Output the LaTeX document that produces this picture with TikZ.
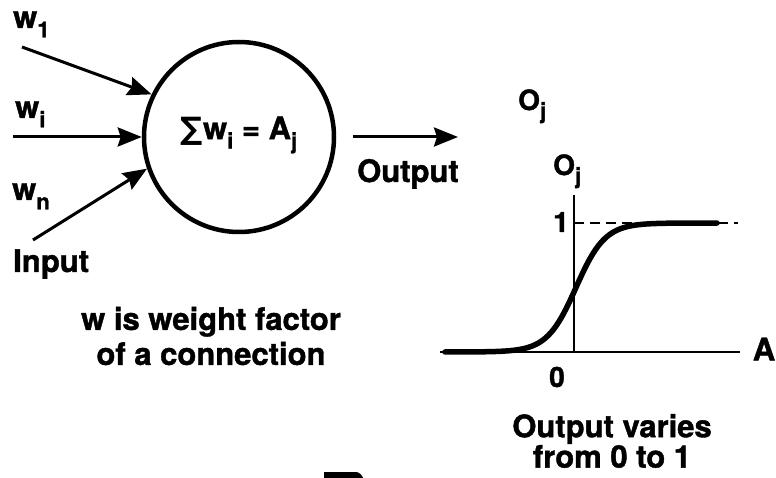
\documentclass[tikz,border=0pt]{standalone}
\usepackage{fontspec}
\setmainfont{TeX Gyre Heros}[BoldFeatures={FakeBold=1.3}]
\newfontfamily\symfont{DejaVu Sans}
\usetikzlibrary{arrows.meta}
\newcommand{\sub}[1]{\raisebox{-0.3em}{\fontsize{22}{22}\selectfont #1}}

\tikzset{
  lbl/.style={font=\fontsize{31}{35}\selectfont\bfseries, inner sep=0pt},
  axlbl/.style={font=\fontsize{28}{30}\selectfont\bfseries, inner sep=0pt},
  wire/.style={line width=3pt, -{Stealth[length=24pt,width=19pt,inset=3pt]}},
}

\begin{document}
\begin{tikzpicture}[x=1pt,y=-1pt]
  \useasboundingbox (0,0) rectangle (776,478);
  % neuron and its inputs
  \node[draw,circle,line width=4.5pt,minimum size=190pt,inner sep=0pt] (neuron) at (239,137) {};
  \node[lbl] (sumtxt) at (239,135) {{\symfont ∑}w\sub{i} = A\sub{j}};
  \coordinate (in1) at (22,47);
  \coordinate (ini) at (13,137);
  \coordinate (inn) at (33,240);
  \draw[wire] (in1) -- (neuron.154);
  \draw[wire] (ini) -- (neuron.west);
  \draw[wire] (inn) -- (neuron.199);
  \node[lbl,anchor=base west] (w1) at (13,28) {w\sub{1}};
  \node[lbl,anchor=base west] (wi) at (15,118) {w\sub{i}};
  \node[lbl,anchor=base west] (wn) at (12,200) {w\sub{n}};
  \node[lbl,anchor=base west] (inlbl) at (13,272) {Input};
  \node[lbl,align=center] (wnote) at (211,336) {w is weight factor\\of a connection};
  % output
  \coordinate (outbeg) at (353,137);
  \coordinate (outend) at (458,137);
  \draw[wire] (outbeg) -- (outend);
  \node[lbl,anchor=base west] (outlbl) at (357,182) {Output};
  % sigmoid graph
  \coordinate (orig) at (574,352);
  \coordinate (xlo) at (440,352);
  \coordinate (xhi) at (740,352);
  \coordinate (ytop) at (574,195);
  \coordinate (one) at (574,223);
  \coordinate (oneend) at (738,223);
  \draw[line width=2.5pt] (xlo) -- (xhi);
  \draw[line width=2pt] (ytop) -- (orig);
  \draw[line width=2pt,dash pattern=on 10pt off 6pt] (one) -- (oneend);
  \draw[line width=5.5pt,line cap=round,domain=445:717,samples=120]
    plot (\x,{352-129/(1+exp(-(\x-576)/14.5))});
  \node[axlbl,anchor=base west] (oj1) at (518,110) {O\sub{j}};
  \node[axlbl,anchor=base west] (oj2) at (553,175) {O\sub{j}};
  \node[axlbl,anchor=east] (onelbl) at (569,222) {1};
  \node[axlbl] (zerolbl) at (557,377) {0};
  \node[lbl] (albl) at (764,349) {A};
  \node[lbl,align=center,font=\fontsize{31}{28}\selectfont\bfseries] (onote) at (612,441) {Output varies\\from 0 to 1};
  % cut-off shape at the bottom edge
  \fill (324,472) -- (356,472) .. controls (359,472) and (362,475) .. (363,478) -- (324,478) -- cycle;
\end{tikzpicture}
\end{document}
